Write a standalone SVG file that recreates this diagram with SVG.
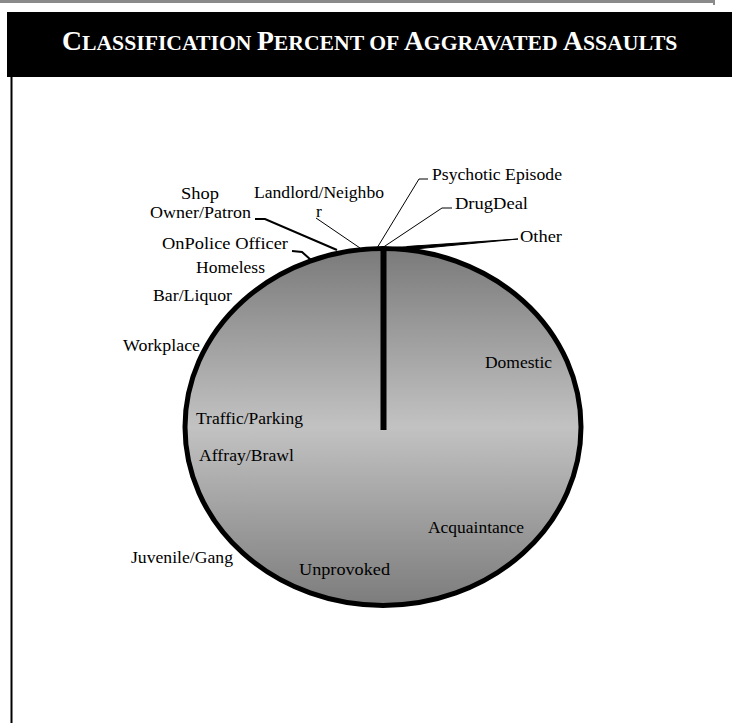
<svg xmlns="http://www.w3.org/2000/svg" width="732" height="723" viewBox="0 0 732 723">
<style>
.lbl{font-family:"Liberation Serif","Times New Roman",serif;font-size:17.5px;fill:#000}
.title{font-family:"Liberation Serif","Times New Roman",serif;font-weight:bold;fill:#fff}
.big{font-size:27.6px}
.sm{font-size:21.7px}
.lead{stroke:#000;fill:none;stroke-width:1}
.leadk{stroke:#000;fill:none;stroke-width:2}
</style>
<defs>
<linearGradient id="pieGrad" x1="0" y1="0" x2="0" y2="1">
<stop offset="0" stop-color="#7a7a7a"/>
<stop offset="0.5" stop-color="#c2c2c2"/>
<stop offset="1" stop-color="#7c7c7c"/>
</linearGradient>
</defs>
<rect width="732" height="723" fill="#fff"/>
<g id="frame">
<rect x="0" y="0" width="715" height="3" fill="#8a8a8a"/>
<rect x="713" y="0" width="2" height="5" fill="#8a8a8a"/>
<rect x="7" y="12" width="725" height="65" fill="#000"/>
<rect x="10.5" y="77" width="2" height="646" fill="#000"/>
</g>
<g id="title">
<text class="title" x="62" y="50"><tspan class="big">C</tspan><tspan class="sm">LASSIFICATION </tspan><tspan class="big">P</tspan><tspan class="sm">ERCENT OF </tspan><tspan class="big">A</tspan><tspan class="sm">GGRAVATED </tspan><tspan class="big">A</tspan><tspan class="sm">SSAULTS</tspan></text>
</g>
<g id="pie">
<ellipse cx="383" cy="427" rx="198" ry="178.5" fill="url(#pieGrad)" stroke="#000" stroke-width="5"/>
<line x1="383.5" y1="248" x2="383.5" y2="430" stroke="#000" stroke-width="6"/>
<path d="M383 249 L420 247" stroke="#000" stroke-width="3" fill="none"/>
</g>
<g id="connectors">
<path class="lead" d="M428 179 L419 179 L377 248"/>
<path class="lead" d="M452 208 L442 208 L382 248"/>
<path d="M518 239 L407 246.5 L410 249.5 Z" fill="#000" stroke="#000" stroke-width="1"/>
<path class="lead" d="M316 218 L360 248"/>
<path class="leadk" d="M255 219 L265 219 L337 250"/>
<path class="leadk" d="M292 251 L302 252 L311 260"/>
</g>
<g id="label-psychotic"><text class="lbl" x="432" y="180" textLength="130" lengthAdjust="spacingAndGlyphs">Psychotic Episode</text></g>
<g id="label-drugdeal"><text class="lbl" x="455" y="209" textLength="73" lengthAdjust="spacingAndGlyphs">DrugDeal</text></g>
<g id="label-other"><text class="lbl" x="520" y="242" textLength="42" lengthAdjust="spacingAndGlyphs">Other</text></g>
<g id="label-landlord"><text class="lbl" x="254" y="198" textLength="130" lengthAdjust="spacingAndGlyphs">Landlord/Neighbo</text><text class="lbl" x="316" y="217">r</text></g>
<g id="label-shop"><text class="lbl" x="181" y="199" textLength="38" lengthAdjust="spacingAndGlyphs">Shop</text><text class="lbl" x="150" y="218" textLength="101" lengthAdjust="spacingAndGlyphs">Owner/Patron</text></g>
<g id="label-police"><text class="lbl" x="162" y="249" textLength="126" lengthAdjust="spacingAndGlyphs">OnPolice Officer</text></g>
<g id="label-homeless"><text class="lbl" x="196" y="273" textLength="69" lengthAdjust="spacingAndGlyphs">Homeless</text></g>
<g id="label-bar"><text class="lbl" x="153" y="301" textLength="79" lengthAdjust="spacingAndGlyphs">Bar/Liquor</text></g>
<g id="label-workplace"><text class="lbl" x="123" y="351" textLength="77" lengthAdjust="spacingAndGlyphs">Workplace</text></g>
<g id="label-domestic"><text class="lbl" x="485" y="368" textLength="67" lengthAdjust="spacingAndGlyphs">Domestic</text></g>
<g id="label-traffic"><text class="lbl" x="196" y="424" textLength="107" lengthAdjust="spacingAndGlyphs">Traffic/Parking</text></g>
<g id="label-affray"><text class="lbl" x="199" y="461" textLength="95" lengthAdjust="spacingAndGlyphs">Affray/Brawl</text></g>
<g id="label-acquaintance"><text class="lbl" x="428" y="533" textLength="96" lengthAdjust="spacingAndGlyphs">Acquaintance</text></g>
<g id="label-juvenile"><text class="lbl" x="131" y="563" textLength="102" lengthAdjust="spacingAndGlyphs">Juvenile/Gang</text></g>
<g id="label-unprovoked"><text class="lbl" x="299" y="575" textLength="91" lengthAdjust="spacingAndGlyphs">Unprovoked</text></g>
</svg>
